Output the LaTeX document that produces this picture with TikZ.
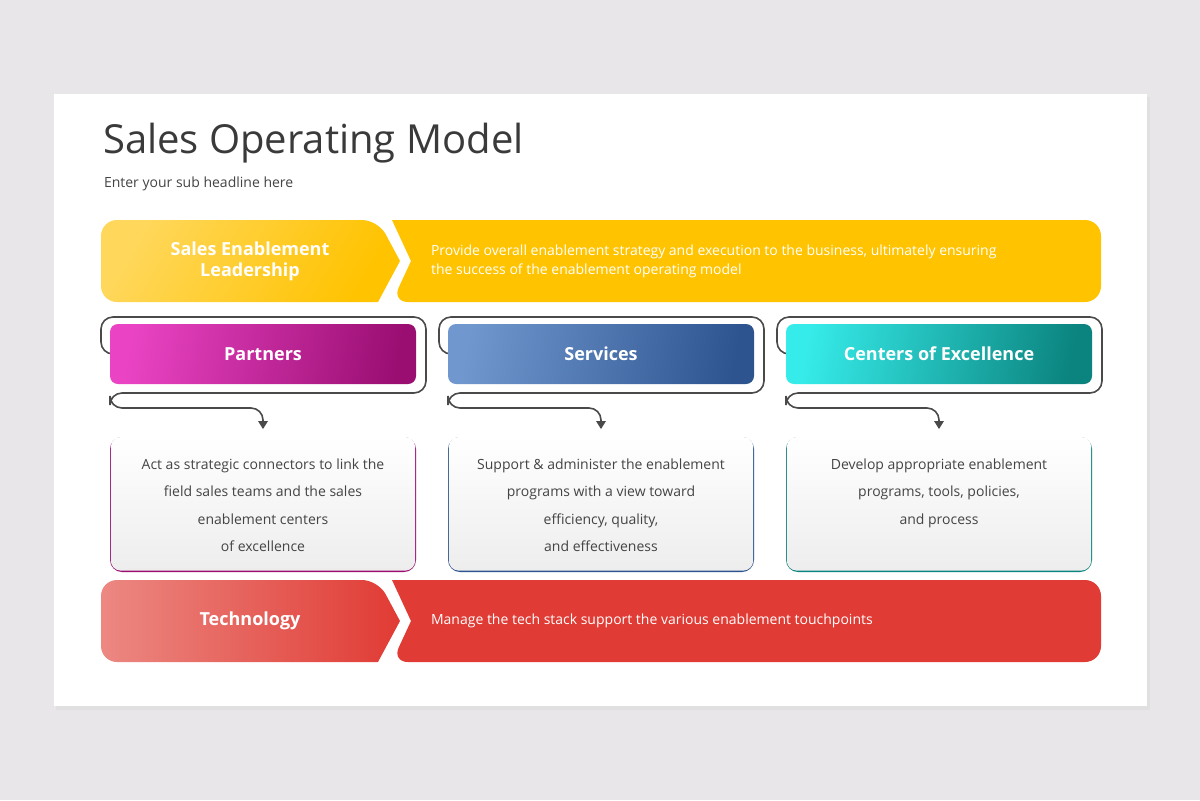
\documentclass[tikz,border=0pt]{standalone}
\usepackage{fontspec}
\setmainfont{Open Sans}
\usetikzlibrary{shadings,calc}
\definecolor{bg}{HTML}{E8E6E9}
\definecolor{ttl}{HTML}{3A3A3A}
\definecolor{yel}{HTML}{FFC300}
\definecolor{yelL}{HTML}{FFD75A}
\definecolor{redd}{HTML}{E03B34}
\definecolor{redL}{HTML}{EC8882}
\definecolor{pkA}{HTML}{EA44C4}
\definecolor{pkB}{HTML}{9A0E72}
\definecolor{blA}{HTML}{7098CE}
\definecolor{blB}{HTML}{2E5490}
\definecolor{cyA}{HTML}{36ECEA}
\definecolor{cyB}{HTML}{0B837E}
\definecolor{ln}{HTML}{4A4A4A}
\definecolor{txt}{HTML}{444444}
\tikzset{
  x=0.5pt,y=-0.5pt,
  head/.style={text=white,font=\fontsize{9}{10.5}\selectfont\bfseries,align=center},
  desc/.style={text=white,font=\fontsize{7}{9.5}\selectfont,align=left,anchor=west},
  body/.style={text=txt,font=\fontsize{7}{13.6}\selectfont,align=center},
  conn/.style={draw=ln,line width=0.8pt,rounded corners=6pt},
  card/.style={rounded corners=5pt,top color=white,bottom color=black!7,draw=none},
}
\begin{document}
\begin{tikzpicture}
\fill[bg] (0,0) rectangle (1200,800);
\useasboundingbox (0,0) rectangle (1200,800);
\fill[black!12] (56,97) rectangle (1150,710);
\fill[white] (54,94) rectangle (1147,706);
\node[anchor=west,text=ttl,font=\fontsize{20}{24}\selectfont] (title) at (96,143) {Sales Operating Model};
\node[anchor=west,text=txt,font=\fontsize{7}{9}\selectfont] (sub) at (97,184) {Enter your sub headline here};
% Yellow row
\shade[left color=yelL,right color=yel,shading angle=60,rounded corners=8pt] (101,220) -- (378,220) [sharp corners] -- (400,261) -- (378,302) [rounded corners=8pt] -- (101,302) -- cycle;
\fill[yel,rounded corners=8pt] (1101,220) -- (1101,302) -- (392,302) [sharp corners] -- (411,261) -- (392,220) [rounded corners=8pt] -- cycle;
\node[head] (sel) at (250,261) {Sales Enablement\\Leadership};
\node[desc] (seld) at (424,261) {Provide overall enablement strategy and execution to the business, ultimately ensuring\\the success of the enablement operating model};
% Red row
\shade[left color=redL,right color=redd,rounded corners=8pt] (101,580) -- (378,580) [sharp corners] -- (400,621) -- (378,662) [rounded corners=8pt] -- (101,662) -- cycle;
\fill[redd,rounded corners=8pt] (1101,580) -- (1101,662) -- (392,662) [sharp corners] -- (411,621) -- (392,580) [rounded corners=8pt] -- cycle;
\node[head] (tech) at (250,621) {Technology};
\node[desc] (techd) at (424,621) {Manage the tech stack support the various enablement touchpoints};
% Columns
\foreach \x/\ca/\cb/\name/\lab/\bt in {
  0/pkA/pkB/p/Partners/{Act as strategic connectors to link the\\field sales teams and the sales\\enablement centers\\of excellence},
  338/blA/blB/s/Services/{Support \& administer the enablement\\programs with a view toward\\efficiency, quality,\\and effectiveness},
  676/cyA/cyB/c/Centers of Excellence/{Develop appropriate enablement\\programs, tools, policies,\\and process}}{
  \begin{scope}[xshift=\x*0.5pt]
  \draw[conn] (110,354) -- (101,354) -- (101,317) -- (426,317) -- (426,393) -- (110,393) -- (110,408) -- (263,408) -- (263,422);
  \fill[ln] (258,421) -- (268,421) -- (263,429) -- cycle;
  \shade[left color=\ca,right color=\cb,shading angle=80,rounded corners=4pt] (110,324) rectangle (416,384);
  \node[head] (\name) at (263,354) {\lab};
  \fill[\cb,rounded corners=6pt] (110,437) rectangle (416,572);
  \shade[card] (110.8,437) rectangle (415.2,570.6);
  \node[body,anchor=north] (\name b) at (263,452) {\bt};
  \end{scope}
}
\end{tikzpicture}
\end{document}
